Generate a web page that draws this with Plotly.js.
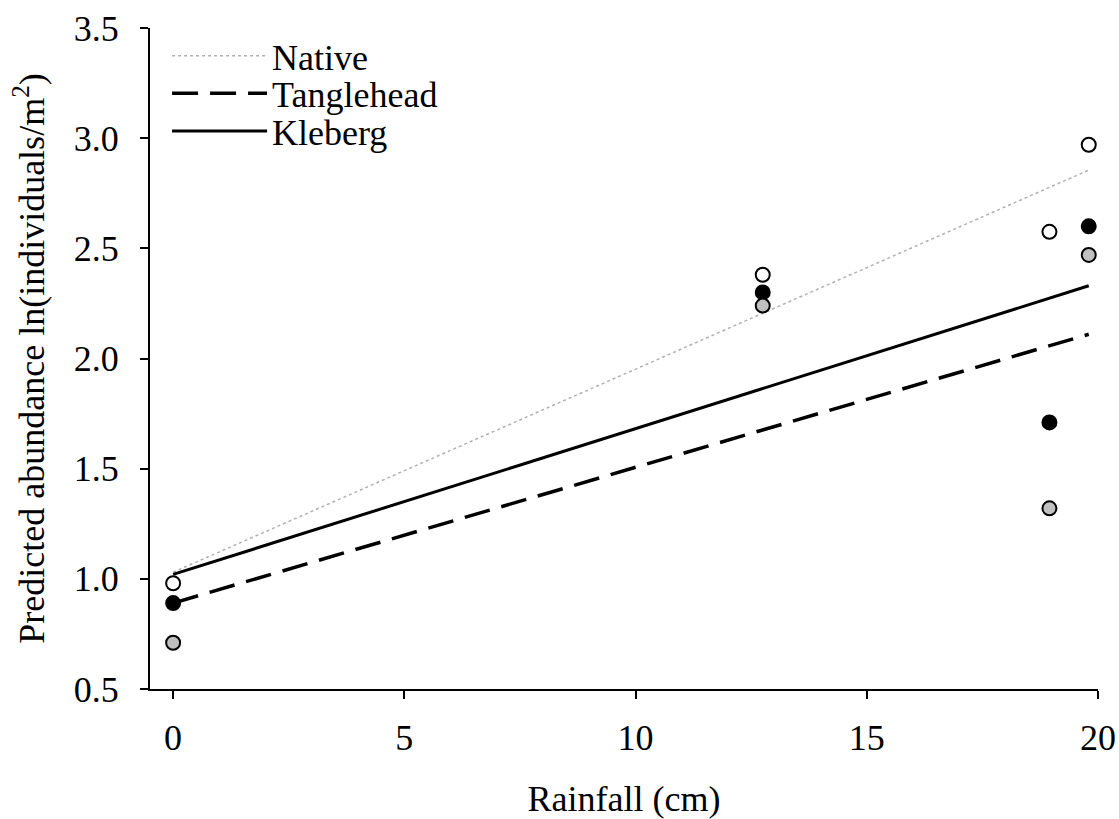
<!DOCTYPE html>
<html>
<head>
<meta charset="utf-8">
<script src="https://cdn.plot.ly/plotly-3.0.1.min.js"></script>
<style>html,body{margin:0;padding:0;background:#fff;}#chart{width:1119px;height:819px;}</style>
</head>
<body>
<div id="chart"></div>
<script>
// Observed points (rainfall in cm)
var rainfall = [0, 12.75, 18.95, 19.8];
var nativePts = [0.98, 2.38, 2.575, 2.97];
var klebergPts = [0.89, 2.30, 1.71, 2.60];
var tangleheadPts = [0.71, 2.24, 1.32, 2.47];

// Fitted lines (endpoints)
var lineX = [0, 19.8];
var nativeLine = [1.03, 2.855];
var tangleheadLine = [0.89, 2.11];
var klebergLine = [1.02, 2.33];

var seriesNames = ['Native', 'Tanglehead', 'Kleberg'];

var font = {family: '"Liberation Serif", "Times New Roman", serif', size: 36, color: '#000'};

var traces = [
  {x: lineX, y: nativeLine, mode: 'lines', name: seriesNames[0], legend: 'legend',
   line: {color: '#b0b0b0', width: 1.5, dash: 'dot'}},
  {x: lineX, y: tangleheadLine, mode: 'lines', name: seriesNames[1], legend: 'legend2',
   line: {color: '#000', width: 3.5, dash: '26px,12px'}},
  {x: lineX, y: klebergLine, mode: 'lines', name: seriesNames[2], legend: 'legend3',
   line: {color: '#000', width: 3}},
  {x: rainfall, y: nativePts, mode: 'markers', showlegend: false,
   marker: {size: 14, color: '#fff', line: {color: '#000', width: 2}}},
  {x: rainfall, y: klebergPts, mode: 'markers', showlegend: false,
   marker: {size: 14, color: '#000', line: {color: '#000', width: 2}}},
  {x: rainfall, y: tangleheadPts, mode: 'markers', showlegend: false,
   marker: {size: 14, color: '#c0c0c0', line: {color: '#000', width: 2}}}
];

function leg(y) {
  return {x: 0.018, y: y, xanchor: 'left', yanchor: 'middle', bgcolor: 'rgba(0,0,0,0)',
          font: font, itemwidth: 95, borderwidth: 0};
}

var layout = {
  width: 1119, height: 819,
  margin: {l: 150, r: 21, t: 28, b: 130},
  paper_bgcolor: '#fff', plot_bgcolor: '#fff',
  font: font,
  showlegend: true,
  legend: leg(0.958),
  legend2: leg(0.901),
  legend3: leg(0.844),
  xaxis: {
    range: [-0.5, 20], tickvals: [0, 5, 10, 15, 20], ticktext: ['0', '5', '10', '15', '20'],
    showline: true, linecolor: '#000', linewidth: 2, showgrid: false, zeroline: false,
    ticks: 'outside', ticklen: 8, tickwidth: 2, tickcolor: '#000',
    tickfont: font, ticklabelstandoff: 8,
    title: {text: 'Rainfall (cm)', font: font, standoff: 34}
  },
  yaxis: {
    range: [0.5, 3.5], tickvals: [0.5, 1.0, 1.5, 2.0, 2.5, 3.0, 3.5],
    ticktext: ['0.5', '1.0', '1.5', '2.0', '2.5', '3.0', '3.5'],
    showline: true, linecolor: '#000', linewidth: 2, showgrid: false, zeroline: false,
    ticks: 'outside', ticklen: 8, tickwidth: 2, tickcolor: '#000',
    tickfont: font, ticklabelstandoff: 14,
    title: {text: 'Predicted abundance ln(individuals/m<sup>2</sup>)', font: font, standoff: 18}
  }
};

Plotly.newPlot('chart', traces, layout, {displayModeBar: false, staticPlot: true});
</script>
</body>
</html>
